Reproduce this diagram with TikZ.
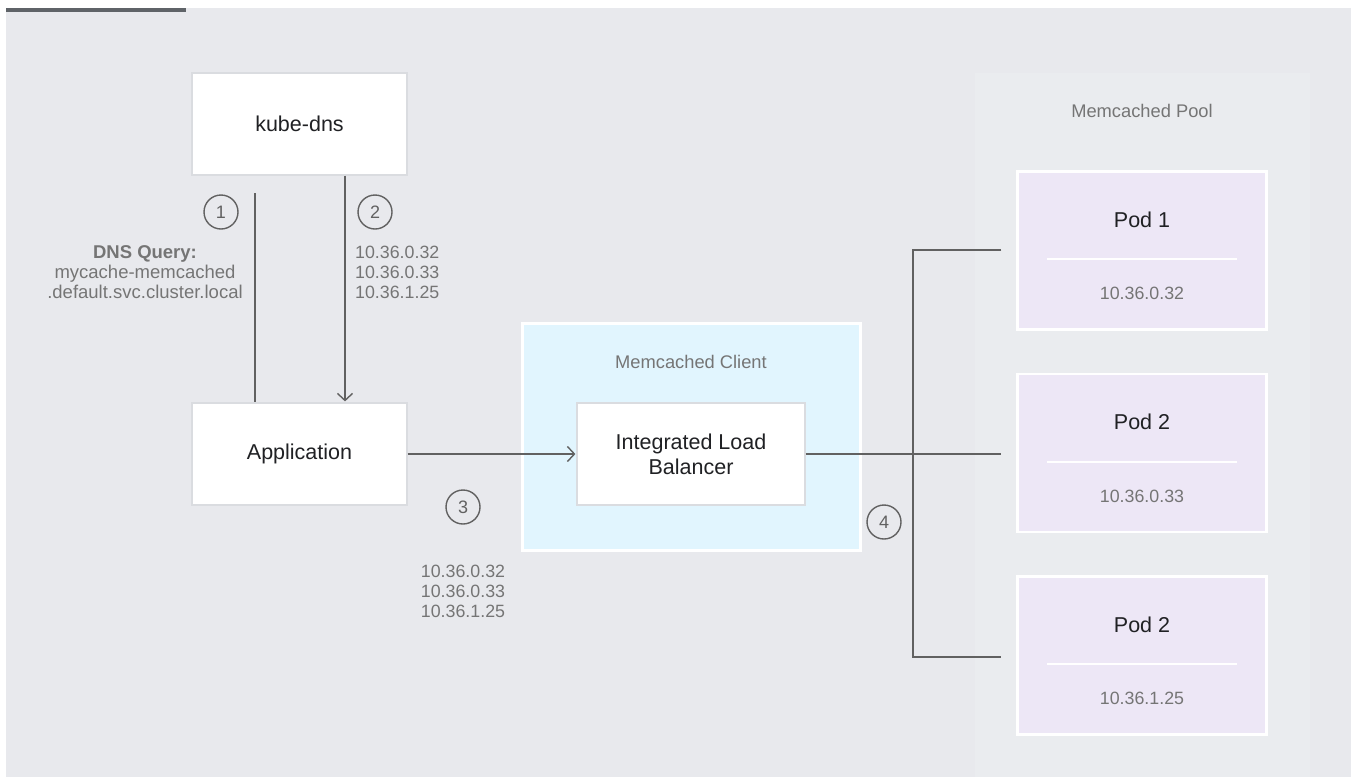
\documentclass[tikz,border=0pt]{standalone}
\usepackage{fontspec}
\setmainfont{Liberation Sans}
\usetikzlibrary{arrows.meta,calc}

\definecolor{bggray}{HTML}{E8E9ED}
\definecolor{poolgray}{HTML}{EAECEF}
\definecolor{topbar}{HTML}{5F6368}
\definecolor{boxline}{HTML}{DADCE0}
\definecolor{clientblue}{HTML}{E1F5FE}
\definecolor{podviolet}{HTML}{EDE7F6}
\definecolor{inkdark}{HTML}{202124}
\definecolor{inkgray}{HTML}{757575}
\definecolor{wire}{HTML}{616161}

\tikzset{
  whitebox/.style={draw=boxline, line width=1.2pt, fill=white, inner sep=0pt,
    minimum width=215pt, minimum height=102pt, text=inkdark, align=center,
    font=\fontsize{21.5}{25}\selectfont},
  podbox/.style={draw=white, line width=2.5pt, fill=podviolet, inner sep=0pt,
    minimum width=249pt, minimum height=158pt},
  podtitle/.style={text=inkdark, font=\fontsize{21.5}{25}\selectfont, inner sep=0pt},
  podip/.style={text=inkgray, font=\fontsize{17.8}{20}\selectfont, inner sep=0pt},
  caption/.style={text=inkgray, font=\fontsize{18.3}{22}\selectfont, inner sep=0pt},
  iplist/.style={text=inkgray, font=\fontsize{17.8}{20}\selectfont, inner sep=0pt, align=left},
  stepnum/.style={circle, draw=wire, line width=1.4pt, minimum size=34pt, inner sep=0pt,
    text=wire, font=\fontsize{18}{20}\selectfont},
  wireline/.style={draw=wire, line width=1.6pt},
  wirearrow/.style={wireline, -{Straight Barb[length=7pt,width=15pt,line width=1.4pt]}},
}

\begin{document}
\begin{tikzpicture}[x=1pt,y=-1pt]
  % canvas and frame
  \fill[white] (0,0) rectangle (1351,777);
  \useasboundingbox (0,0) rectangle (1351,777);
  \fill[bggray] (6,8) rectangle (1351,777);
  \fill[topbar] (6,8) rectangle (186,12);
  \fill[poolgray] (975,73) rectangle (1310,777);

  % left column
  \node[whitebox] (kube) at (299.5,124) {kube-dns};
  \node[whitebox] (app)  at (299.5,454) {Application};

  % memcached client panel
  \node[draw=white, line width=3pt, fill=clientblue, minimum width=338pt,
        minimum height=227pt, inner sep=0pt] (client) at (691,436.5) {};
  \node[caption] (clienttitle) at (691,362) {Memcached Client};
  \node[whitebox, minimum width=228pt] (ilb) at (691,454) {Integrated Load\\Balancer};

  % memcached pool
  \node[caption] (pooltitle) at (1142,111) {Memcached Pool};
  \foreach \n/\y/\t/\ip in {1/250.5/Pod 1/10.36.0.32, 2/453/Pod 2/10.36.0.33, 3/655.5/Pod 2/10.36.1.25}{
    \node[podbox] (pod\n) at (1142,\y) {};
    \node[podtitle] (pod\n t) at ([yshift=31pt]pod\n.center) {\t};
    \node[podip] (pod\n ip) at ([yshift=-43pt]pod\n.center) {\ip};
    \draw[white, line width=2pt] ([xshift=-95pt,yshift=-8.5pt]pod\n.center) -- ([xshift=95pt,yshift=-8.5pt]pod\n.center);
  }

  % step 1: DNS query
  \coordinate (r1) at (255,193);
  \coordinate (r2) at (345,300);
  \draw[wireline] (r1) -- (app.north -| r1);
  \node[stepnum] (s1) at (221,212) {1};
  \node[text=inkgray, font=\fontsize{18.5}{20}\selectfont, align=center, inner sep=0pt]
    (dnsq) at (145,272) {\textbf{DNS Query:}\\mycache-memcached\\.default.svc.cluster.local};

  % step 2: answer from kube-dns
  \draw[wirearrow] (kube.south -| r2) -- ([yshift=1pt]app.north -| r2);
  \node[stepnum] (s2) at (375,212) {2};
  \node[iplist, anchor=west] (ips2) at (355,272) {10.36.0.32\\10.36.0.33\\10.36.1.25};

  % step 3: application to client
  \draw[wirearrow] (app.east) -- ([xshift=-1pt]ilb.west);
  \node[stepnum] (s3) at (463,507) {3};
  \node[iplist] (ips3) at (463,591) {10.36.0.32\\10.36.0.33\\10.36.1.25};

  % step 4: fan-out to the pods
  \coordinate (bus) at (913,454);
  \draw[wireline] (ilb.east) -- ([xshift=-15pt]pod2.west |- ilb.east);
  \draw[wireline] ([xshift=-15pt,yshift=0.5pt]pod1.west) -| (bus)
                  |- ([xshift=-15pt,yshift=-1.5pt]pod3.west);
  \node[stepnum] (s4) at (884,522) {4};
\end{tikzpicture}
\end{document}
